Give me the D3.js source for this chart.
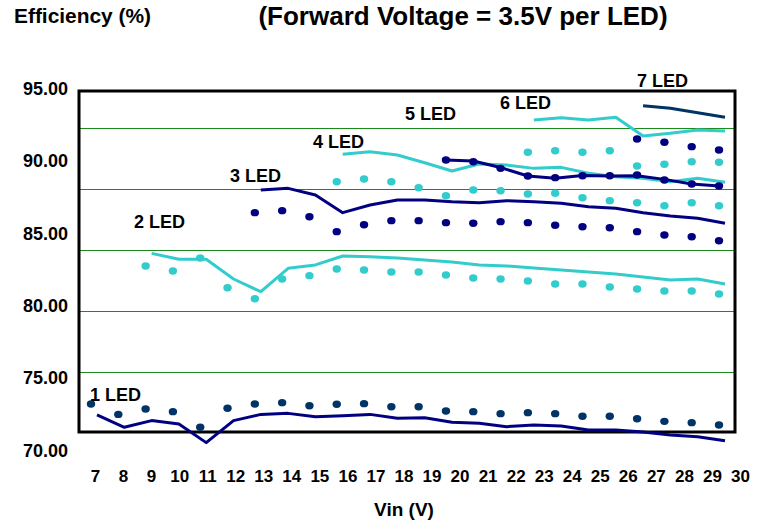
<!DOCTYPE html>
<html>
<head>
<meta charset="utf-8">
<script src="https://cdn.jsdelivr.net/npm/d3@7"></script>
<style>
  html, body { margin: 0; padding: 0; background: #fff; }
  svg { display: block; }
  text { font-family: Arial, "Liberation Sans", sans-serif; font-weight: bold; fill: #000; }
</style>
</head>
<body>
<svg id="chart" width="770" height="523"></svg>
<script>
// ---------- DATA ----------
const vin = [7, 8, 9, 10, 11, 12, 13, 14, 15, 16, 17, 18, 19, 20, 21, 22, 23, 24, 25, 26, 27, 28, 29, 30];
const yTickLabels = [70, 75, 80, 85, 90, 95];
const gridValues = [75, 80, 85, 90, 95];

// measured efficiency (dots), null where not measured
const led1Dots = [73.18, 72.46, 72.83, 72.65, 71.57, 72.88, 73.18, 73.27, 73.06, 73.16, 73.20, 72.99, 72.99, 72.69, 72.65, 72.51, 72.58, 72.51, 72.33, 72.33, 72.16, 71.98, 71.89, 71.73];
const led2Dots = [null, null, 82.71, 82.36, 83.26, 81.21, 80.45, 81.81, 82.04, 82.50, 82.43, 82.29, 82.29, 82.09, 81.88, 81.81, 81.67, 81.46, 81.46, 81.26, 81.12, 80.98, 80.98, 80.77];
const led3Dots = [null, null, null, null, null, null, 86.39, 86.53, 86.11, 85.08, 85.56, 85.84, 85.84, 85.70, 85.66, 85.77, 85.70, 85.52, 85.42, 85.35, 85.08, 84.85, 84.73, 84.45];
const led4Dots = [null, null, null, null, null, null, null, null, null, 88.53, 88.72, 88.53, 88.11, 87.56, 87.96, 87.90, 87.68, 87.73, 87.42, 87.22, 87.08, 86.87, 87.08, 86.87];
const led5Dots = [null, null, null, null, null, null, null, null, null, null, null, null, null, 90.03, 89.91, 89.45, 88.92, 88.81, 88.94, 88.94, 88.99, 88.65, 88.37, 88.23];
const led6Dots = [null, null, null, null, null, null, null, null, null, null, null, null, null, null, null, null, 90.56, 90.67, 90.56, 90.67, 89.61, 89.73, 89.91, 89.87];
const led7Dots = [null, null, null, null, null, null, null, null, null, null, null, null, null, null, null, null, null, null, null, null, 91.48, 91.25, 90.95, 90.72];

// calculated efficiency (lines)
const led1Line = [72.42, 71.57, 72.03, 71.80, 70.51, 72.03, 72.46, 72.53, 72.30, 72.37, 72.46, 72.19, 72.23, 71.91, 71.84, 71.61, 71.72, 71.66, 71.38, 71.38, 71.24, 71.04, 70.92, 70.64];
const led2Line = [null, null, 83.58, 83.17, 83.17, 81.81, 80.93, 82.55, 82.78, 83.40, 83.35, 83.26, 83.12, 82.98, 82.78, 82.71, 82.57, 82.43, 82.29, 82.15, 81.95, 81.74, 81.81, 81.46];
const led3Line = [null, null, null, null, null, null, 87.96, 88.07, 87.61, 86.39, 86.92, 87.27, 87.27, 87.15, 87.08, 87.22, 87.15, 87.04, 86.80, 86.69, 86.39, 86.16, 86.00, 85.66];
const led4Line = [null, null, null, null, null, null, null, null, null, 90.42, 90.60, 90.37, 89.84, 89.27, 89.75, 89.68, 89.45, 89.52, 89.11, 88.87, 88.76, 88.53, 88.76, 88.49];
const led5Line = [null, null, null, null, null, null, null, null, null, null, null, null, null, 90.03, 89.96, 89.51, 88.92, 88.76, 88.96, 88.92, 88.94, 88.69, 88.37, 88.23];
const led6Line = [null, null, null, null, null, null, null, null, null, null, null, null, null, null, null, null, 92.79, 92.95, 92.79, 92.98, 91.69, 91.87, 92.10, 92.03];
const led7Line = [null, null, null, null, null, null, null, null, null, null, null, null, null, null, null, null, null, null, null, null, 93.78, 93.60, 93.29, 92.98];

const seriesNames = ["1 LED", "2 LED", "3 LED", "4 LED", "5 LED", "6 LED", "7 LED"];

// ---------- STYLE / LAYOUT ----------
const NAVY = "#000080", DARK = "#003366", CYAN = "#33CCCC";
const series = [
  { name: seriesNames[0], dots: led1Dots, line: led1Line, dotColor: DARK, lineColor: NAVY, shift: 6, label: [90, 395] },
  { name: seriesNames[1], dots: led2Dots, line: led2Line, dotColor: CYAN, lineColor: CYAN, shift: 6, label: [134, 222] },
  { name: seriesNames[2], dots: led3Dots, line: led3Line, dotColor: NAVY, lineColor: NAVY, shift: 6, label: [230, 176] },
  { name: seriesNames[3], dots: led4Dots, line: led4Line, dotColor: CYAN, lineColor: CYAN, shift: 6, label: [313, 142] },
  { name: seriesNames[4], dots: led5Dots, line: led5Line, dotColor: NAVY, lineColor: NAVY, shift: 0, label: [405, 114] },
  { name: seriesNames[5], dots: led6Dots, line: led6Line, dotColor: CYAN, lineColor: CYAN, shift: 6, label: [500, 103] },
  { name: seriesNames[6], dots: led7Dots, line: led7Line, dotColor: NAVY, lineColor: DARK, shift: 6, label: [637, 81] }
];

const svg = d3.select("#chart");
const frame = { left: 79, right: 735, top: 91, bottom: 432 };

// scales
const xData = d3.scaleLinear().domain([7, 30]).range([91, 719]);
const xTicks = d3.scaleLinear().domain([7, 30]).range([95, 740]);
const yData = d3.scaleLinear().domain([70, 95]).range([450, 88]);
const yGrid = d3.scaleLinear().domain([70, 95]).range([433, 128]);

// gridlines
svg.append("g").selectAll("line").data(gridValues).join("line")
  .attr("x1", frame.left).attr("x2", frame.right)
  .attr("y1", d => Math.round(yGrid(d)) + 0.5).attr("y2", d => Math.round(yGrid(d)) + 0.5)
  .attr("stroke", "#1a8a1a").attr("stroke-width", 1);

// frame
svg.append("rect")
  .attr("x", frame.left).attr("y", frame.top)
  .attr("width", frame.right - frame.left).attr("height", frame.bottom - frame.top)
  .attr("fill", "none").attr("stroke", "#000").attr("stroke-width", 3);

// y axis labels
const yAxis = d3.axisLeft(yData).tickValues(yTickLabels).tickSize(0).tickPadding(0)
  .tickFormat(d3.format(".2f"));
const gy = svg.append("g").attr("transform", "translate(68,0)").call(yAxis);
gy.select(".domain").remove();
gy.selectAll("text").attr("font-size", 18).attr("font-family", "Arial, 'Liberation Sans', sans-serif")
  .attr("font-weight", "bold").attr("fill", "#000").attr("dy", "0.35em");

// x axis labels
const xAxis = d3.axisBottom(xTicks).tickValues(vin).tickSize(0).tickPadding(0).tickFormat(d3.format("d"));
const gx = svg.append("g").attr("transform", "translate(0,470)").call(xAxis);
gx.select(".domain").remove();
gx.selectAll("text").attr("font-size", 17).attr("font-family", "Arial, 'Liberation Sans', sans-serif")
  .attr("font-weight", "bold").attr("fill", "#000").attr("dy", "0.71em");

// lines
series.forEach(s => {
  const pts = s.line.map((v, i) => ({ x: vin[i], y: v })).filter(p => p.y !== null);
  const lineGen = d3.line().x(d => xData(d.x) + s.shift).y(d => yData(d.y));
  svg.append("path").datum(pts)
    .attr("d", lineGen)
    .attr("fill", "none").attr("stroke", s.lineColor).attr("stroke-width", 3)
    .attr("stroke-linejoin", "round");
});

// dots
series.forEach(s => {
  const pts = s.dots.map((v, i) => ({ x: vin[i], y: v })).filter(p => p.y !== null);
  svg.append("g").selectAll("ellipse").data(pts).join("ellipse")
    .attr("cx", d => xData(d.x)).attr("cy", d => yData(d.y))
    .attr("rx", 4.2).attr("ry", 3.7)
    .attr("fill", s.dotColor);
});

// series labels
svg.append("g").selectAll("text").data(series).join("text")
  .attr("x", d => d.label[0]).attr("y", d => d.label[1])
  .attr("dy", "0.35em").attr("font-size", 18)
  .text(d => d.name);

// titles
svg.append("text").attr("x", 14).attr("y", 23).attr("font-size", 20)
  .attr("textLength", 137).attr("lengthAdjust", "spacingAndGlyphs")
  .text("Efficiency (%)");
svg.append("text").attr("x", 463).attr("y", 25).attr("text-anchor", "middle").attr("font-size", 26)
  .text("(Forward Voltage = 3.5V per LED)");
svg.append("text").attr("x", 404).attr("y", 516).attr("text-anchor", "middle").attr("font-size", 19)
  .text("Vin (V)");
</script>
</body>
</html>
